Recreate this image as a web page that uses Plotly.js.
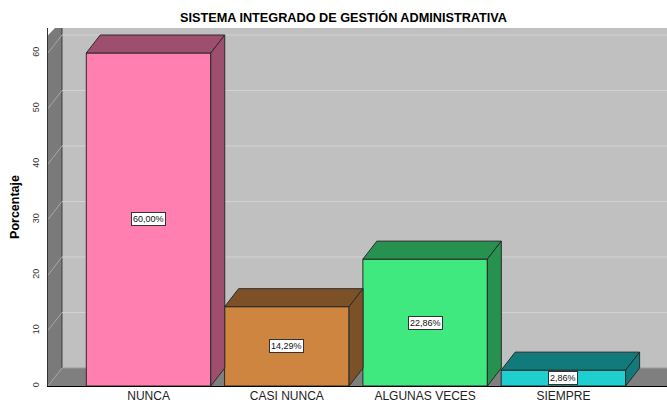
<!DOCTYPE html>
<html><head><meta charset="utf-8">
<script src="https://cdn.plot.ly/plotly-3.0.1.min.js"></script>
<style>html,body{margin:0;padding:0;background:#fff}#c{width:667px;height:405px}</style>
</head><body><div id="c"></div>
<script>
const categories = ["NUNCA", "CASI NUNCA", "ALGUNAS VECES", "SIEMPRE"];
const percentages = [60.00, 14.29, 22.86, 2.86];
const frontColors = ["#ff80b0", "#cd853f", "#40e880", "#1fcfcf"];
const sideColors = ["#9e4f6e", "#7d5128", "#27914f", "#117b7b"];
const yTicks = [0, 10, 20, 30, 40, 50, 60];

// 3D geometry (style constants)
const XMIN = -0.727, XMAX = 3.749, YMAX = 64.5;
const DX = 0.101, DY = 3.24, HALF = 0.45;

const idx = categories.map((_, i) => i);
const traces = [];

traces.push({
  type: "bar", x: idx, y: percentages, width: idx.map(() => 2 * HALF),
  marker: {color: frontColors, line: {color: "#2a2a2a", width: 1}},
  hoverinfo: "skip", showlegend: false
});

idx.forEach(i => {
  const v = percentages[i];
  const l = i - HALF, r = i + HALF;
  traces.push({
    type: "scatter", mode: "lines", fill: "toself", fillcolor: sideColors[i],
    x: [l, l + DX, r + DX, r, l], y: [v, v + DY, v + DY, v, v],
    line: {color: "#2a2a2a", width: 1}, hoverinfo: "skip", showlegend: false
  });
  traces.push({
    type: "scatter", mode: "lines", fill: "toself", fillcolor: sideColors[i],
    x: [r, r, r + DX, r + DX, r], y: [0, v, v + DY, DY, 0],
    line: {color: "#2a2a2a", width: 1}, hoverinfo: "skip", showlegend: false
  });
});

const shapes = [];
// back wall
shapes.push({type: "rect", xref: "x", yref: "y", x0: XMIN + DX, x1: XMAX, y0: DY, y1: YMAX,
  fillcolor: "#c0c0c0", line: {width: 0}, layer: "below"});
// floor
shapes.push({type: "path", xref: "x", yref: "y", layer: "below",
  path: `M ${XMIN} 0 L ${XMIN + DX} ${DY} L ${XMAX} ${DY} L ${XMAX} 0 Z`,
  fillcolor: "#7f7f7f", line: {width: 0}});
// left wall
shapes.push({type: "path", xref: "x", yref: "y", layer: "below",
  path: `M ${XMIN} 0 L ${XMIN} ${YMAX - DY * 0.4} L ${XMIN + DX * 0.5} ${YMAX} L ${XMIN + DX} ${YMAX} L ${XMIN + DX} ${DY} Z`,
  fillcolor: "#7a7a7a", line: {width: 0}});
// back-wall inner edges
shapes.push({type: "line", xref: "x", yref: "y", layer: "below", x0: XMIN + DX, x1: XMIN + DX, y0: DY, y1: YMAX, line: {color: "#3a3a3a", width: 1}});
shapes.push({type: "line", xref: "x", yref: "y", layer: "below", x0: XMIN + DX, x1: XMAX, y0: DY, y1: DY, line: {color: "#9a9a9a", width: 1}});
shapes.push({type: "line", xref: "x", yref: "y", layer: "below", x0: XMIN, x1: XMIN + DX, y0: 0, y1: DY, line: {color: "#a0a0a0", width: 1}});
yTicks.forEach(t => {
  if (t === 0) return;
  shapes.push({type: "line", xref: "x", yref: "y", layer: "below", x0: XMIN + DX, x1: XMAX, y0: t + DY, y1: t + DY, line: {color: "#d2d2d2", width: 1}});
  shapes.push({type: "line", xref: "x", yref: "y", layer: "below", x0: XMIN, x1: XMIN + DX, y0: t, y1: t + DY, line: {color: "#a8a8a8", width: 1}});
});

const annotations = idx.map(i => ({
  x: i, y: percentages[i] / 2, xref: "x", yref: "y", showarrow: false,
  text: percentages[i].toFixed(2).replace(".", ",") + "%",
  font: {family: "Liberation Sans, Arial, sans-serif", size: 9, color: "#111"},
  bgcolor: "#ffffff", bordercolor: "#333333", borderwidth: 1, borderpad: 1
}));

const layout = {
  width: 667, height: 405,
  margin: {l: 48, r: 0, t: 28, b: 19, pad: 0},
  paper_bgcolor: "#ffffff", plot_bgcolor: "#ffffff",
  font: {family: "Liberation Sans, Arial, sans-serif", color: "#222"},
  title: {text: "<b>SISTEMA INTEGRADO DE GESTIÓN ADMINISTRATIVA</b>",
    font: {size: 12.7, color: "#000"}, xref: "container", yref: "container",
    x: 0.515, xanchor: "center", y: 0.957, yanchor: "middle"},
  xaxis: {range: [XMIN, XMAX], tickvals: idx, ticktext: categories, showgrid: false, zeroline: false,
    showline: true, linecolor: "#000", linewidth: 1, ticks: "", ticklabelstandoff: -1,
    tickfont: {size: 12, color: "#222"}, fixedrange: true},
  yaxis: {range: [0, YMAX], tickvals: yTicks, ticktext: yTicks.map(String), tickangle: -90, showgrid: false, zeroline: false,
    showline: true, linecolor: "#333", linewidth: 1, ticks: "", ticklabelstandoff: 4,
    tickfont: {size: 9, color: "#333"},
    title: {text: "<b>Porcentaje</b>", font: {size: 12.5, color: "#000"}, standoff: 9}, fixedrange: true},
  shapes: shapes, annotations: annotations, showlegend: false, bargap: 0
};
Plotly.newPlot("c", traces, layout, {displayModeBar: false, staticPlot: true});
</script></body></html>
